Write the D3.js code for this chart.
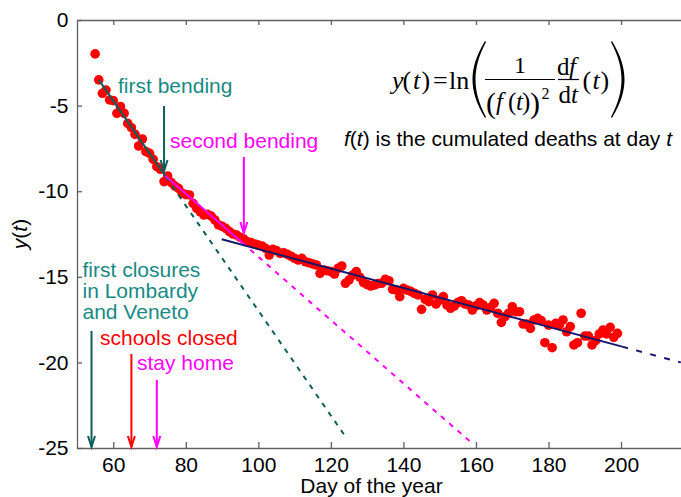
<!DOCTYPE html>
<html>
<head>
<meta charset="utf-8">
<script src="https://cdn.jsdelivr.net/npm/d3@7"></script>
<style>
  body { margin: 0; background: #fff; }
  svg { display: block; font-family: "Liberation Sans", Arial, sans-serif; }
</style>
</head>
<body>
<div id="chart"></div>
<script>
// ---- data ----
var firstDay = 55;
var yValues = [
  -1.98, -3.50, -4.28, -4.09, -4.67, -4.71, -5.45, -5.06, -5.45, -6.04,
  -6.29, -6.68, -7.36, -6.95, -7.69, -7.79, -8.14, -8.57, -8.72, -9.44,
  -9.11, -9.50, -9.70, -9.83, -10.12, -10.20, -10.22, -10.71, -11.00, -11.20,
  -11.39, -11.35, -11.45, -11.68, -11.97, -12.05, -12.17, -12.36, -12.50, -12.56,
  -12.69, -12.80, -12.95, -13.00, -13.08, -13.15, -13.20, -13.34, -13.73, -13.40,
  -13.47, -13.63, -13.60, -13.69, -13.80, -13.92, -14.02, -13.92, -14.12, -14.18,
  -14.25, -14.31, -14.80, -14.60, -14.65, -14.70, -14.84, -14.50, -14.37, -15.38,
  -15.19, -14.90, -14.70, -15.03, -15.34, -15.45, -15.54, -15.48, -15.40, -15.38,
  -15.15, -15.23, -15.73, -15.77, -16.16, -15.67, -15.77, -15.85, -15.96, -16.06,
  -16.90, -16.32, -16.45, -16.06, -16.59, -16.36, -16.16, -16.65, -16.84, -16.71,
  -16.51, -16.40, -16.59, -16.65, -16.94, -16.70, -16.51, -16.65, -16.94, -16.80,
  -16.55, -17.13, -17.66, -17.33, -17.13, -16.75, -17.04, -17.04, -17.76, -17.76,
  -18.01, -17.52, -17.43, -17.56, -18.85, -17.82, -19.14, -17.72, -17.82, -17.52,
  -18.21, -17.91, -18.98, -18.85, -17.13, -18.46, -18.46, -18.98, -18.73, -18.34,
  -18.11, -18.34, -17.95, -18.53, -18.30
];
var xTicks = [60, 80, 100, 120, 140, 160, 180, 200];
var yTicks = [0, -5, -10, -15, -20, -25];

// fitted lines: [start, end of solid part, end of dashed part]
var fitFirst = [[56, -3.5], [74.5, -9.16], [123.7, -24.24]];
var fitSecond = [[74.3, -9.1], [95.5, -13.0], [158.8, -24.7]];
var fitThird = [[89.9, -12.81], [200.3, -19.08], [216.5, -20.0]];

var eventDays = [54, 65, 72];
var bendDays = [74, 96];

// ---- layout ----
var W = 681, H = 497;
var teal = "#178a84", tealDark = "#0c5e5a", magenta = "#ff00ff", red = "#ff0000", navy = "#16166a";

var x = d3.scaleLinear().domain([50, 218]).range([77, 77 + 168 * 3.627]);
var y = d3.scaleLinear().domain([-25, 0]).range([448, 20]);

var svg = d3.select("#chart").append("svg").attr("width", W).attr("height", H);

// axes
function styleAxis(g) {
  g.selectAll("path, line").attr("stroke", "#606060").attr("stroke-width", 1.3);
  g.selectAll("text").attr("font-size", "21px").attr("fill", "#000")
    .attr("font-family", "'Liberation Sans', Arial, sans-serif");
}
svg.append("g").attr("transform", "translate(0,448)")
  .call(d3.axisBottom(x).tickValues(xTicks).tickSizeInner(-6).tickSizeOuter(0).tickPadding(9)
    .tickFormat(function(d) { return String(d); }))
  .call(styleAxis);
svg.append("g").attr("transform", "translate(0,20)")
  .call(d3.axisTop(x).tickValues(xTicks).tickSizeInner(-5).tickSizeOuter(0).tickFormat(""))
  .call(styleAxis);
svg.append("g").attr("transform", "translate(77,0)")
  .call(d3.axisLeft(y).tickValues(yTicks).tickSizeInner(-5).tickSizeOuter(0).tickPadding(8.5)
    .tickFormat(function(d) { return String(d); }))
  .call(styleAxis);

svg.append("text").attr("x", 371.5).attr("y", 493).attr("text-anchor", "middle")
  .attr("font-size", "21px").text("Day of the year");

var yl = svg.append("text").attr("transform", "translate(27,234) rotate(-90)")
  .attr("text-anchor", "middle").attr("font-size", "21px");
yl.append("tspan").attr("font-style", "italic").text("y");
yl.append("tspan").text("(");
yl.append("tspan").attr("font-style", "italic").text("t");
yl.append("tspan").text(")");

// dots
svg.append("g").selectAll("circle").data(yValues).enter().append("circle")
  .attr("cx", function(d, i) { return x(firstDay + i); })
  .attr("cy", function(d) { return y(d); })
  .attr("r", 4.8).attr("fill", red);

// fitted lines
var line = d3.line().x(function(d) { return x(d[0]); }).y(function(d) { return y(d[1]); });
function fit(pts, color, dash) {
  svg.append("path").attr("d", line(pts.slice(0, 2))).attr("fill", "none")
    .attr("stroke", color).attr("stroke-width", 2);
  svg.append("path").attr("d", line(pts.slice(1))).attr("fill", "none")
    .attr("stroke", color).attr("stroke-width", 2).attr("stroke-dasharray", dash);
}
fit(fitFirst, tealDark, "5,6");
fit(fitSecond, magenta, "5,6");
fit(fitThird, navy, "6,8.5");

// arrows
function arrow(xp, y0, y1, color) {
  svg.append("line").attr("x1", xp).attr("x2", xp).attr("y1", y0).attr("y2", y1)
    .attr("stroke", color).attr("stroke-width", 2);
  svg.append("path").attr("d", "M" + (xp - 3.5) + "," + (y1 - 11) + "L" + xp + "," + y1 + "L" + (xp + 3.5) + "," + (y1 - 11))
    .attr("fill", "none").attr("stroke", color).attr("stroke-width", 2);
}
arrow(x(eventDays[0]), 331, 447, tealDark);
arrow(x(eventDays[1]), 354, 447, red);
arrow(x(eventDays[2]), 380, 447, magenta);
arrow(x(bendDays[0]), 106, 171, tealDark);
arrow(x(bendDays[1]), 157, 233, magenta);

// labels
function label(txt, xp, yp, color) {
  svg.append("text").attr("x", xp).attr("y", yp).attr("font-size", "21px").attr("fill", color).text(txt);
}
label("first bending", 118, 93, teal);
label("second bending", 170, 148, magenta);
label("first closures", 82.5, 277, teal);
label("in Lombardy", 82.5, 298, teal);
label("and Veneto", 82.5, 319, teal);
label("schools closed", 100, 345, red);
label("stay home", 137, 370, magenta);

var note = svg.append("text").attr("x", 344).attr("y", 146).attr("font-size", "21px");
note.append("tspan").attr("font-style", "italic").text("f");
note.append("tspan").text("(");
note.append("tspan").attr("font-style", "italic").text("t");
note.append("tspan").text(") is the cumulated deaths at day ");
note.append("tspan").attr("font-style", "italic").text("t");

// formula
var fm = svg.append("g").attr("font-family", "'Liberation Serif', 'Times New Roman', serif").attr("fill", "#000");
function ft(txt, xp, yp, size, ital) {
  fm.append("text").attr("x", xp).attr("y", yp).attr("font-size", size + "px")
    .attr("font-style", ital ? "italic" : "normal").text(txt);
}
ft("y", 392, 89, 26, true);
ft("(", 402.5, 89, 26);
ft("t", 413, 89, 26, true);
ft(")", 421.5, 89, 26);
ft("=", 433, 89, 26);
ft("ln", 449, 89, 26);
ft("1", 514, 72.5, 24);
ft("(", 486, 113, 30);
ft("f", 496, 110, 25, true);
ft("(", 508, 110, 25);
ft("t", 516, 110, 25, true);
ft(")", 522, 110, 25);
ft(")", 530, 113, 30);
ft("2", 541.5, 99, 16);
ft("d", 557, 75, 25);
ft("f", 569, 75, 25, true);
ft("d", 558.5, 103, 25);
ft("t", 571, 103, 25, true);
ft("(", 582.5, 89, 26);
ft("t", 592.5, 89, 26, true);
ft(")", 600.5, 89, 26);
fm.append("line").attr("x1", 485).attr("x2", 555).attr("y1", 79.5).attr("y2", 79.5).attr("stroke", "#000").attr("stroke-width", 1.2);
fm.append("line").attr("x1", 558).attr("x2", 579).attr("y1", 79.5).attr("y2", 79.5).attr("stroke", "#000").attr("stroke-width", 1.2);
var lp = "M485,41 C476,56 472.5,68 472.5,79.5 C472.5,91 476,103 485,118 L486,117 C478.5,103 475.5,91 475.5,79.5 C475.5,68 478.5,56 486,42 Z";
fm.append("path").attr("d", lp);
fm.append("path").attr("d", lp).attr("transform", "translate(1097,0) scale(-1,1)");
</script>
</body>
</html>
